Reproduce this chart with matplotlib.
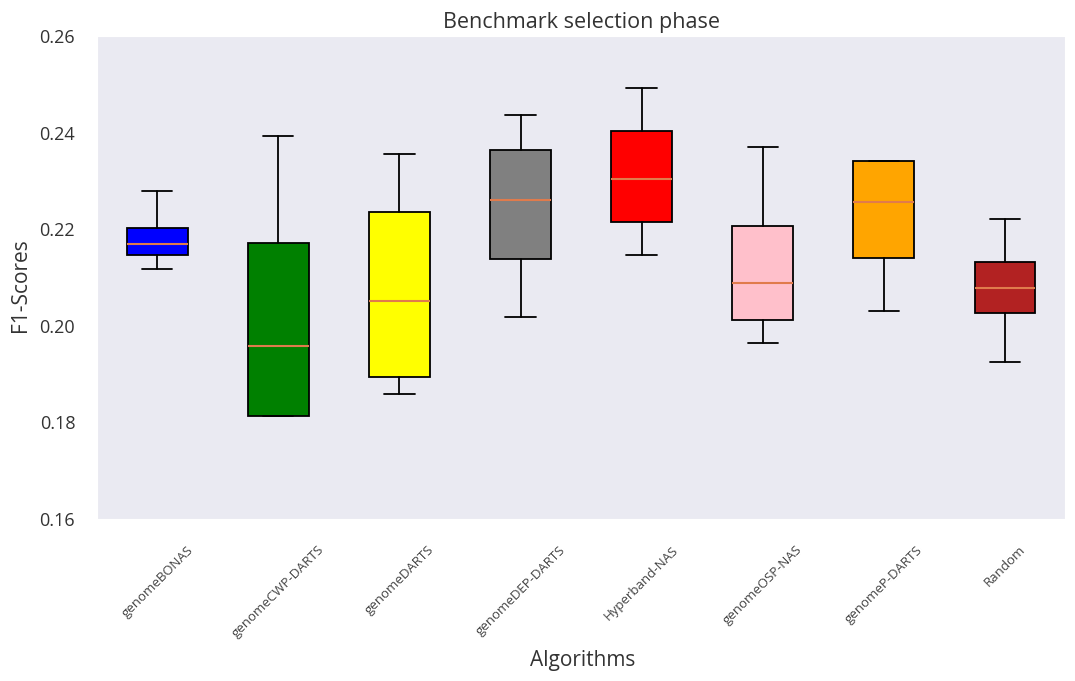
import matplotlib
matplotlib.use("Agg")
import matplotlib.pyplot as plt
import seaborn as sns

# F1 score summaries per algorithm (benchmark selection phase)
algorithms = ["genomeBONAS", "genomeCWP-DARTS", "genomeDARTS", "genomeDEP-DARTS",
              "Hyperband-NAS", "genomeOSP-NAS", "genomeP-DARTS", "Random"]
whisker_low = [0.2118, 0.1813, 0.1858, 0.2019, 0.2147, 0.1965, 0.2031, 0.1926]
q1 = [0.2147, 0.1813, 0.1893, 0.2139, 0.2215, 0.2011, 0.2141, 0.2027]
median = [0.2170, 0.1959, 0.2052, 0.2260, 0.2304, 0.2089, 0.2256, 0.2079]
q3 = [0.2203, 0.2172, 0.2236, 0.2364, 0.2403, 0.2207, 0.2341, 0.2132]
whisker_high = [0.2279, 0.2393, 0.2355, 0.2436, 0.2492, 0.2370, 0.2341, 0.2221]
colors = ["blue", "green", "yellow", "gray", "red", "pink", "orange", "firebrick"]

sns.set_style("dark")
plt.rcParams["font.family"] = ["Open Sans", "DejaVu Sans"]

stats = []
for name, lo, a, m, b, hi in zip(algorithms, whisker_low, q1, median, q3, whisker_high):
    stats.append({"label": name, "whislo": lo, "q1": a, "med": m, "q3": b,
                  "whishi": hi, "fliers": []})

fig = plt.figure(figsize=(10.75, 6.81), dpi=100)
ax = fig.add_axes([0.090, 0.238, 0.901, 0.709])

bp = ax.bxp(stats, patch_artist=True, widths=0.5,
            boxprops=dict(edgecolor="black", linewidth=1.3),
            whiskerprops=dict(color="black", linewidth=1.3),
            capprops=dict(color="black", linewidth=1.3),
            medianprops=dict(color="#e07b4c", linewidth=1.5))
for patch, c in zip(bp["boxes"], colors):
    patch.set_facecolor(c)

ax.set_ylim(0.16, 0.26)
ax.set_xlim(0.5, 8.5)
ax.set_yticks([0.16, 0.18, 0.20, 0.22, 0.24, 0.26])
ax.tick_params(axis="y", labelsize=13, labelcolor="#333333", pad=12)
ax.tick_params(axis="x", pad=14)
ax.set_xticklabels(algorithms, rotation=45, fontsize=9.5, color="#444444")
ax.set_title("Benchmark selection phase", fontsize=15.5, color="#333333", pad=6)
ax.set_ylabel("F1-Scores", fontsize=15, color="#333333")
ax.yaxis.set_label_coords(-0.068, 0.485)
ax.set_xlabel("Algorithms", fontsize=15, color="#333333")
ax.xaxis.set_label_coords(0.502, -0.272)

fig.savefig("out.png", dpi=100)
